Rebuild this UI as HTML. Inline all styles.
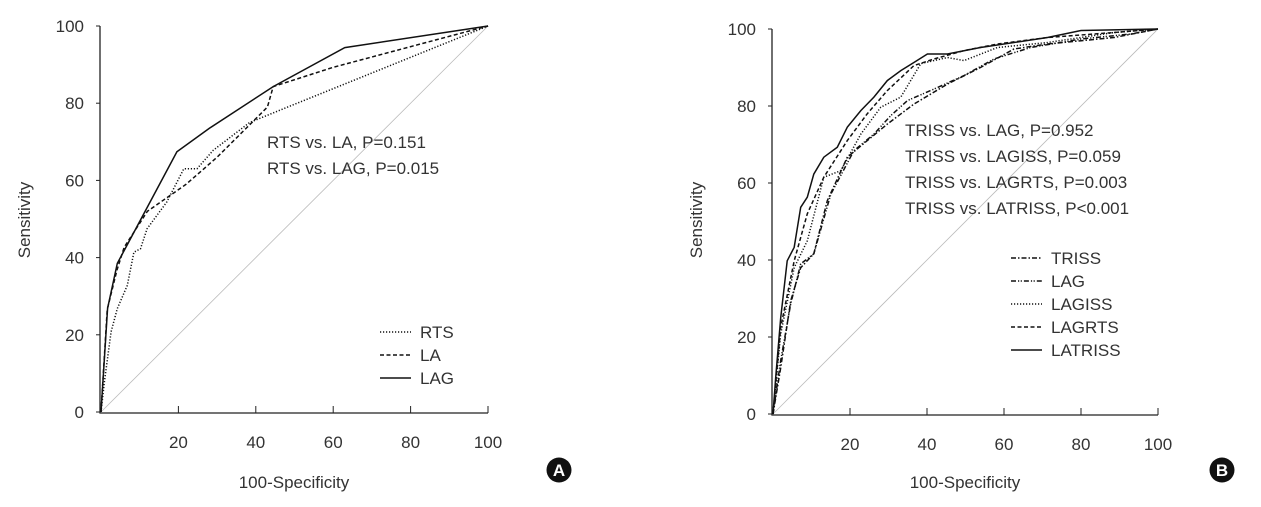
<!DOCTYPE html>
<html><head><meta charset="utf-8"><style>
body{margin:0;background:#fff;}
svg{display:block;font-family:"Liberation Sans",sans-serif;fill:#333;}
text{font-size:17px;}
</style></head><body>
<svg id="chart" width="1261" height="507" viewBox="0 0 1261 507" xmlns="http://www.w3.org/2000/svg"></svg>
<script>
// Panel A data
const aRTS_x=[0,0.9,2.6,4.2,6.8,8.5,10.2,11.9,17,21.4,24.8,29,38.4,47,64,100];
const aRTS_y=[0,8,20.8,26.8,32.8,41.4,42.3,47.5,54.4,63,63,67.8,75,78.5,85.4,100];
const aLA_x=[0,1.6,4.1,6,12,22,30,43,44.5,60,100];
const aLA_y=[0,26.5,36.7,42.7,52,59,66,79,84.3,89.3,100];
const aLAG_x=[0,1.7,4.2,19.6,28,44.5,63,100];
const aLAG_y=[0,26.9,38.5,67.4,73.5,84.3,94.4,100];
// Panel B data
const bLATRISS_x=[0,0.7,2,3.7,5.5,7.2,8.9,10.6,13.2,16.7,19.3,22.8,26.2,29.7,33.2,36.6,40.1,45.3,53.9,62.6,71.3,80,100];
const bLATRISS_y=[0,9.5,25,39.8,43.3,53.7,56.3,62.3,66.7,69.3,74.5,78.8,82.3,86.6,89.2,91.3,93.5,93.5,95.2,96.5,97.8,99.6,100];
const bLAGRTS_x=[0,2,5.5,8.9,13.2,19.3,24.5,29.7,36.6,41.8,49.6,58.3,71.3,88.6,100];
const bLAGRTS_y=[0,22.5,39.8,52,61.5,71,78,84,90.5,92.2,94.4,96.1,97.8,99.1,100];
const bLAGISS_x=[0,2,5.5,8.9,13.2,17.6,22.8,28,33.2,38.4,45.3,49.6,58.3,71.3,88.6,100];
const bLAGISS_y=[0,20.8,38,45,61.5,63.2,72.7,79.7,82.3,91,92.6,91.8,95.2,96.5,99.1,100];
const bTRISS_x=[0,2,4.6,7.2,10.6,14.1,19.3,24.5,29.7,36.6,45.3,53.9,62.6,71.3,88.6,100];
const bTRISS_y=[0,12,29.4,38,41.6,55.4,66.7,71,75.3,80.5,85.7,90,94.8,96.1,97.8,100];
const bLAG_x=[0,2,4.6,7.2,10.6,15,21,26.2,30.6,34.9,41.8,49.6,57.4,66.9,80,92.9,100];
const bLAG_y=[0,13.9,28.6,39,41.6,57.1,68.4,72.7,77.5,81.4,84.4,87.9,92.2,95.2,97.4,98.7,100];
const ticks=[0,20,40,60,80,100];

const NS="http://www.w3.org/2000/svg";
const svg=document.getElementById('chart');
function mk(tag,attrs,parent){const e=document.createElementNS(NS,tag);for(const k in attrs)e.setAttribute(k,attrs[k]);(parent||svg).appendChild(e);return e;}

const panels=[
 {id:'a',x0:101,x1:488,y0:412,y1:26,ax:100,
  series:[[aRTS_x,aRTS_y,'1.2,1.8','rts'],[aLA_x,aLA_y,'4,2.5','la'],[aLAG_x,aLAG_y,'','lag']],
  notes:['RTS vs. LA, P=0.151','RTS vs. LAG, P=0.015'],noteX:267,noteY:148,
  legend:['RTS','LA','LAG'],legX:380,legY:332,label:'A',cx:559},
 {id:'b',x0:773,x1:1158,y0:414,y1:29,ax:772,
  series:[[bTRISS_x,bTRISS_y,'5,2,1.5,2','triss'],[bLAG_x,bLAG_y,'5,2,1.2,1.5,1.2,2','lag'],[bLAGISS_x,bLAGISS_y,'1.2,1.8','lagiss'],[bLAGRTS_x,bLAGRTS_y,'4,2.5','lagrts'],[bLATRISS_x,bLATRISS_y,'','latriss']],
  notes:['TRISS vs. LAG, P=0.952','TRISS vs. LAGISS, P=0.059','TRISS vs. LAGRTS, P=0.003','TRISS vs. LATRISS, P<0.001'],noteX:905,noteY:136,
  legend:['TRISS','LAG','LAGISS','LAGRTS','LATRISS'],legX:1011,legY:258,label:'B',cx:1222}
];
panels.forEach(p=>{
 const sx=v=>p.x0+(p.x1-p.x0)*v/100, sy=v=>p.y0+(p.y1-p.y0)*v/100;
 const g=mk('g',{});
 
 
 const diag=mk('line',{x1:sx(0),y1:sy(0),x2:sx(100),y2:sy(100),stroke:'#bbb','stroke-width':0.8},g);
 
 
 const axes=mk('path',{d:`M${p.ax},${sy(100)}V${p.y0+1}H${sx(100)}`,fill:'none',stroke:'#222','stroke-width':1.3},g);
 
 
 ticks.forEach(t=>{
  const yl=mk('line',{x1:p.ax-4,x2:p.ax,y1:sy(t),y2:sy(t),stroke:'#222','stroke-width':1},g);
  
  
  const yt=mk('text',{x:p.ax-16,y:sy(t)+6,'text-anchor':'end'},g);yt.textContent=t;
  
  
  if(t>0){
   const xl=mk('line',{x1:sx(t),x2:sx(t),y1:p.y0+1,y2:p.y0-6,stroke:'#222','stroke-width':1},g);
   
   
   const xt=mk('text',{x:sx(t),y:p.y0+36,'text-anchor':'middle'},g);xt.textContent=t;
   
   
  }
 });
 const xtitle=mk('text',{x:(p.ax+sx(100))/2,y:488,'text-anchor':'middle'},g);xtitle.textContent='100-Specificity';
 
 
 const yx=p.ax-70;
 const ytitle=mk('text',{x:yx,y:220,'text-anchor':'middle',transform:`rotate(-90 ${yx} 220)`},g);ytitle.textContent='Sensitivity';
 
 
 p.series.forEach(s=>{
  const pts=s[0].map((v,i)=>sx(v).toFixed(1)+','+sy(s[1][i]).toFixed(1)).join(' ');
  const pl=mk('polyline',{points:pts,fill:'none',stroke:'#111','stroke-width':1.5,'stroke-dasharray':s[2]||'none'},g);
  
  
 });
 p.notes.forEach((n,i)=>{
  const t=mk('text',{x:p.noteX,y:p.noteY+i*26,'font-size':17},g);t.textContent=n;
  
  
 });
 p.legend.forEach((n,i)=>{
  const y=p.legY+i*23;
  const s=p.series[i];
  const l=mk('line',{x1:p.legX,x2:p.legX+31,y1:y,y2:y,stroke:'#111','stroke-width':1.5,'stroke-dasharray':s[2]||'none'},g);
  
  
  const t=mk('text',{x:p.legX+40,y:y+6,'font-size':17},g);t.textContent=n;
  
  
 });
 const c=mk('circle',{cx:p.cx,cy:470,r:12.5,fill:'#111'},g);
 
 
 const ct=mk('text',{x:p.cx,y:476,'text-anchor':'middle','font-weight':'bold','font-size':16,fill:'#fff'},g);ct.textContent=p.label;
 
 
});
</script>
</body></html>
